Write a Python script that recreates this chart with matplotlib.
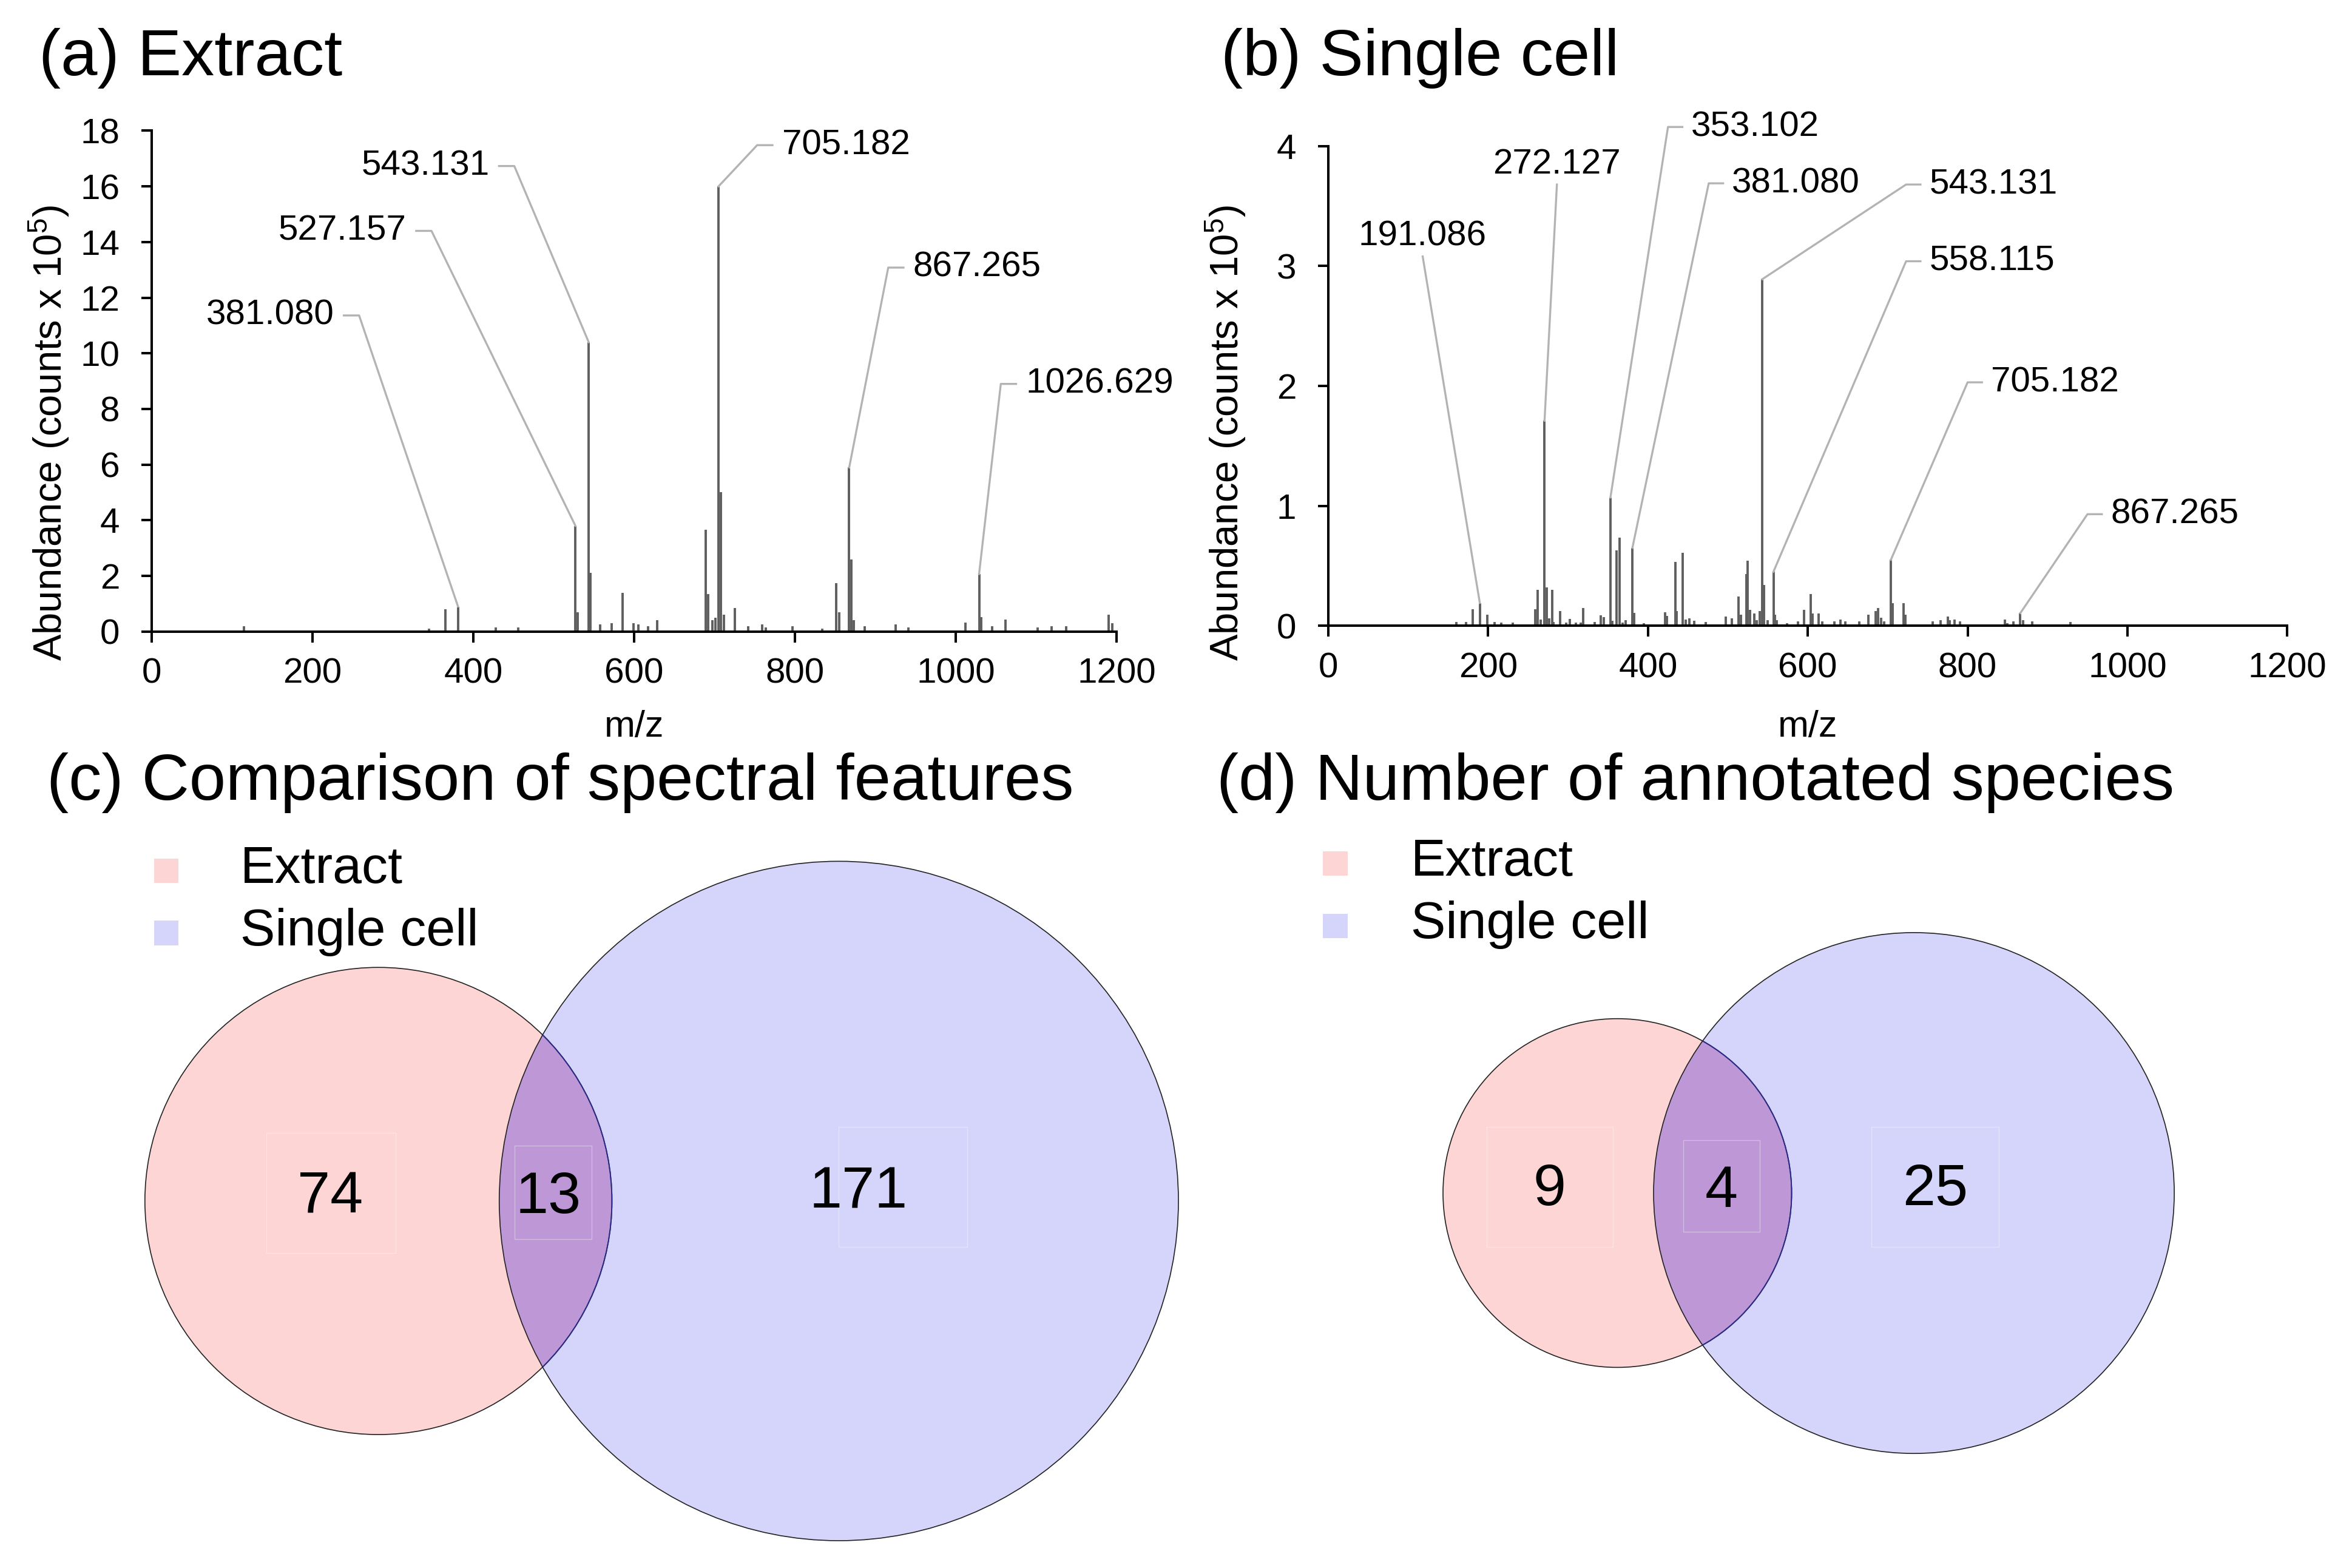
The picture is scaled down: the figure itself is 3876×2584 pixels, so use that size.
import numpy as np
import matplotlib
matplotlib.use("Agg")
import matplotlib.pyplot as plt
from matplotlib.patches import Circle, Rectangle

plt.rcParams['font.family'] = ['Liberation Sans', 'DejaVu Sans']
plt.rcParams['mathtext.fontset'] = 'custom'
plt.rcParams['mathtext.rm'] = 'Liberation Sans'
plt.rcParams['mathtext.it'] = 'Liberation Sans:italic'

# ---- data ----
# (a) extract spectrum, abundance in counts x 1e5
extract_mz = [115, 345, 365, 381, 428, 456, 527, 530, 543.5, 546, 558, 572, 586, 599,
              605, 617, 629, 689, 692, 697, 701, 705, 708, 712, 725, 742, 759, 764,
              797, 834, 851, 855, 867.5, 870, 873, 887, 925, 941, 1012, 1029, 1031.5,
              1045, 1062, 1102, 1119, 1137, 1190, 1195]
extract_abund = [0.2, 0.1, 0.8, 0.9, 0.15, 0.15, 3.8, 0.7, 10.4, 2.1, 0.25, 0.3, 1.4, 0.3,
                 0.25, 0.2, 0.4, 3.65, 1.35, 0.4, 0.5, 16.0, 5.0, 0.6, 0.85, 0.2, 0.25, 0.15,
                 0.2, 0.1, 1.75, 0.7, 5.9, 2.6, 0.4, 0.2, 0.25, 0.15, 0.33, 2.07, 0.51,
                 0.2, 0.44, 0.15, 0.2, 0.2, 0.6, 0.3]
extract_labels = ["381.080", "527.157", "543.131", "705.182", "867.265", "1026.629"]
extract_label_mz = [381, 527, 543.5, 705, 867.5, 1029]

# (b) single cell spectrum
cell_mz = [160, 172, 181, 189.5, 199, 208, 216, 231, 259, 262, 266, 270.5, 273, 276, 280,
           282, 290, 297.5, 302, 310, 316, 319, 333, 341, 345, 353, 355, 361, 364.5, 368,
           372, 380.5, 383, 395, 421.5, 424, 434, 436, 443.5, 447, 452, 458, 472, 497,
           505, 513, 516, 523, 525, 528, 533, 536, 540, 543, 545, 550, 557, 559, 561.5,
           574, 588, 595, 603.5, 606, 613.5, 618, 633, 641, 647, 664.5, 676, 685, 688,
           691.5, 695.5, 704, 706.5, 719.5, 722, 756.5, 766, 775, 777.5, 784, 790.5, 847,
           850, 857, 866, 869.5, 880.5, 929]
cell_abund = [0.03, 0.03, 0.135, 0.19, 0.094, 0.03, 0.027, 0.027, 0.135, 0.30, 0.05, 1.71,
              0.32, 0.06, 0.30, 0.03, 0.12, 0.027, 0.056, 0.025, 0.025, 0.148, 0.03, 0.086,
              0.07, 1.07, 0.04, 0.63, 0.735, 0.027, 0.044, 0.65, 0.106, 0.02, 0.11, 0.08,
              0.53, 0.12, 0.61, 0.05, 0.06, 0.04, 0.03, 0.076, 0.063, 0.244, 0.09, 0.43,
              0.54, 0.13, 0.10, 0.045, 0.12, 2.89, 0.34, 0.045, 0.45, 0.09, 0.045, 0.02,
              0.036, 0.13, 0.265, 0.10, 0.10, 0.036, 0.036, 0.05, 0.036, 0.036, 0.09, 0.12,
              0.145, 0.067, 0.036, 0.55, 0.19, 0.19, 0.09, 0.036, 0.045, 0.076, 0.045, 0.05,
              0.036, 0.05, 0.02, 0.036, 0.105, 0.045, 0.036, 0.03]
cell_labels = ["191.086", "272.127", "353.102", "381.080", "543.131", "558.115",
               "705.182", "867.265"]
cell_label_mz = [189.5, 270.5, 353, 380.5, 543, 557, 704, 866]

# (c), (d) venn counts: only extract, both, only single cell
set_names = ["Extract", "Single cell"]
feature_counts = [74, 13, 171]
species_counts = [9, 4, 25]

# ---- layout (reference pixel grid 1568 x 1045) ----
W, H = 1568.0, 1045.0
PEAK_COL = '#5f5f5f'
LEAD_COL = '#b3b3b3'
PINK, BLUE, PURPLE = '#fdd5d5', '#d5d5fb', '#be97d7'

# leader elbow (m/z, y) and direction
a_leaders = [(258, 11.36, 'left'), (348, 14.4, 'left'), (451, 16.73, 'left'),
             (753, 17.48, 'right'), (916, 13.08, 'right'), (1056, 8.9, 'right')]
b_leaders = [(118, 3.08, 'up'), (286, 3.68, 'up'), (425, 4.16, 'right'),
             (476, 3.69, 'right'), (723, 3.68, 'right'), (723, 3.04, 'right'),
             (800, 2.03, 'right'), (950, 0.93, 'right')]


def box(x0, x1, y_top, y_bot):
    return [x0 / W, 1 - y_bot / H, (x1 - x0) / W, (y_bot - y_top) / H]


def spectrum(ax, mz, ab, ymax, ystep, lab_txt, lab_mz, leaders, stub, gap, up_dy):
    mz = np.array(mz)
    ab = np.array(ab)
    ax.vlines(mz, 0, ab, color=PEAK_COL, lw=2.8, zorder=2)
    for txt, pm, (ex, ey, side) in zip(lab_txt, lab_mz, leaders):
        h = ab[np.argmin(np.abs(mz - pm))]
        if side == 'up':
            ax.plot([pm, ex], [h, ey], color=LEAD_COL, lw=2.4, clip_on=False, zorder=3)
            ax.text(ex, ey + up_dy, txt, ha='center', va='baseline', fontsize=42,
                    clip_on=False)
        else:
            sgn = -1 if side == 'left' else 1
            ax.plot([pm, ex, ex + sgn * stub], [h, ey, ey], color=LEAD_COL, lw=2.4,
                    clip_on=False, zorder=3)
            ax.text(ex + sgn * (stub + gap), ey, txt, ha='right' if sgn < 0 else 'left',
                    va='center', fontsize=42, clip_on=False)
    ax.set_xlim(0, 1200)
    ax.set_ylim(0, ymax)
    ax.set_xticks(np.arange(0, 1201, 200))
    ax.set_yticks(np.arange(0, ymax + 0.01, ystep))
    for s in ['top', 'right']:
        ax.spines[s].set_visible(False)
    for s in ['left', 'bottom']:
        ax.spines[s].set_linewidth(2.9)
        ax.spines[s].set_zorder(4)
    ax.tick_params(axis='y', direction='out', length=12, width=2.9, pad=26, labelsize=42)
    ax.tick_params(axis='x', direction='out', length=13, width=2.9, pad=18, labelsize=42)


def lens_area(r1, r2, d):
    a1 = r1 ** 2 * np.arccos((d * d + r1 * r1 - r2 * r2) / (2 * d * r1))
    a2 = r2 ** 2 * np.arccos((d * d + r2 * r2 - r1 * r1) / (2 * d * r2))
    a3 = 0.5 * np.sqrt((-d + r1 + r2) * (d + r1 - r2) * (d - r1 + r2) * (d + r1 + r2))
    return a1 + a2 - a3


def venn(ax, counts, left, cy, k, num_pos, boxes):
    a_only, both, b_only = counts
    r1 = k * np.sqrt(a_only + both)
    r2 = k * np.sqrt(b_only + both)
    target = np.pi * k * k * both
    lo, hi = abs(r1 - r2) + 1e-6, r1 + r2 - 1e-6
    for _ in range(100):
        mid = 0.5 * (lo + hi)
        if lens_area(r1, r2, mid) > target:
            lo = mid
        else:
            hi = mid
    d = 0.5 * (lo + hi)
    c1 = (left + r1, cy)
    c2 = (left + r1 + d, cy)
    ax.add_patch(Circle(c1, r1, facecolor=PINK, edgecolor='none', zorder=1))
    blue = Circle(c2, r2, facecolor=BLUE, edgecolor='none', zorder=1)
    ax.add_patch(blue)
    mid_patch = Circle(c1, r1, facecolor=PURPLE, edgecolor='none', zorder=2)
    ax.add_patch(mid_patch)
    mid_patch.set_clip_path(blue)
    ax.add_patch(Circle(c1, r1, facecolor='none', edgecolor='#222222', lw=1.2, zorder=3))
    ax.add_patch(Circle(c2, r2, facecolor='none', edgecolor='#222222', lw=1.2, zorder=3))
    inner = Circle(c1, r1, facecolor='none', edgecolor='#2a2a8c', lw=1.4, zorder=4)
    ax.add_patch(inner)
    inner.set_clip_path(blue)
    for n, (tx, ty), (bx, by, bw, bh) in zip(counts, num_pos, boxes):
        ax.add_patch(Rectangle((bx, by), bw, bh, facecolor='none', edgecolor='white',
                               alpha=0.35, lw=1.0, zorder=5))
        ax.text(tx, ty, str(n), ha='center', va='baseline', fontsize=70, zorder=6)


def legend(ax, x, bottoms, tx):
    for name, col, yb in zip(set_names, [PINK, BLUE], bottoms):
        ax.add_patch(Rectangle((x, yb - 16.5), 16.5, 16.5, facecolor=col,
                               edgecolor='none', zorder=2))
        ax.text(tx, yb, name, ha='left', va='baseline', fontsize=62)


fig = plt.figure(figsize=(38.76, 25.84), dpi=100)

# overlay in reference pixel coordinates for venn panels and titles
ov = fig.add_axes([0, 0, 1, 1])
ov.set_xlim(0, W)
ov.set_ylim(H, 0)
ov.axis('off')

ax_a = fig.add_axes(box(101.1, 744.4, 87.1, 420.9))
spectrum(ax_a, extract_mz, extract_abund, 18, 2, extract_labels, extract_label_mz,
         a_leaders, 19, 12, 0.6)
ax_b = fig.add_axes(box(885.6, 1524.8, 97.4, 417.0))
spectrum(ax_b, cell_mz, cell_abund, 4, 1, cell_labels, cell_label_mz,
         b_leaders, 18, 11, 0.09)

ylab = 'Abundance (counts x 10$^{5}$)'
for xc in [33, 817.5]:
    ov.text(xc, 288.6, ylab, rotation=90, ha='center', va='center', fontsize=47)
for xc in [422.7, 1205.2]:
    ov.text(xc, 491, 'm/z', ha='center', va='baseline', fontsize=44)

TITLE_FS = 78
ov.text(26, 50, '(a) Extract', ha='left', va='baseline', fontsize=TITLE_FS)
ov.text(814, 50, '(b) Single cell', ha='left', va='baseline', fontsize=TITLE_FS)
ov.text(31, 533, '(c) Comparison of spectral features', ha='left', va='baseline',
        fontsize=TITLE_FS)
ov.text(811, 533, '(d) Number of annotated species', ha='left', va='baseline',
        fontsize=TITLE_FS)

venn(ov, feature_counts, 96.6, 800.4, 16.69,
     [(220.3, 808.4), (365.4, 808.4), (572.2, 805.0)],
     [(177.7, 755, 86.1, 80), (343, 763.7, 51.5, 62), (559, 751, 86, 80)])
venn(ov, species_counts, 962.0, 795.1, 32.23,
     [(1033, 803.2), (1147.8, 804.3), (1290, 803.2)],
     [(991, 751, 84.4, 80), (1122, 760, 51, 61), (1247.6, 751, 84.9, 80)])
legend(ov, 102.6, [588.6, 630.0], 160.2)
legend(ov, 882.0, [583.7, 625.4], 940.5)

fig.savefig('out.png', dpi=100, facecolor='white')
